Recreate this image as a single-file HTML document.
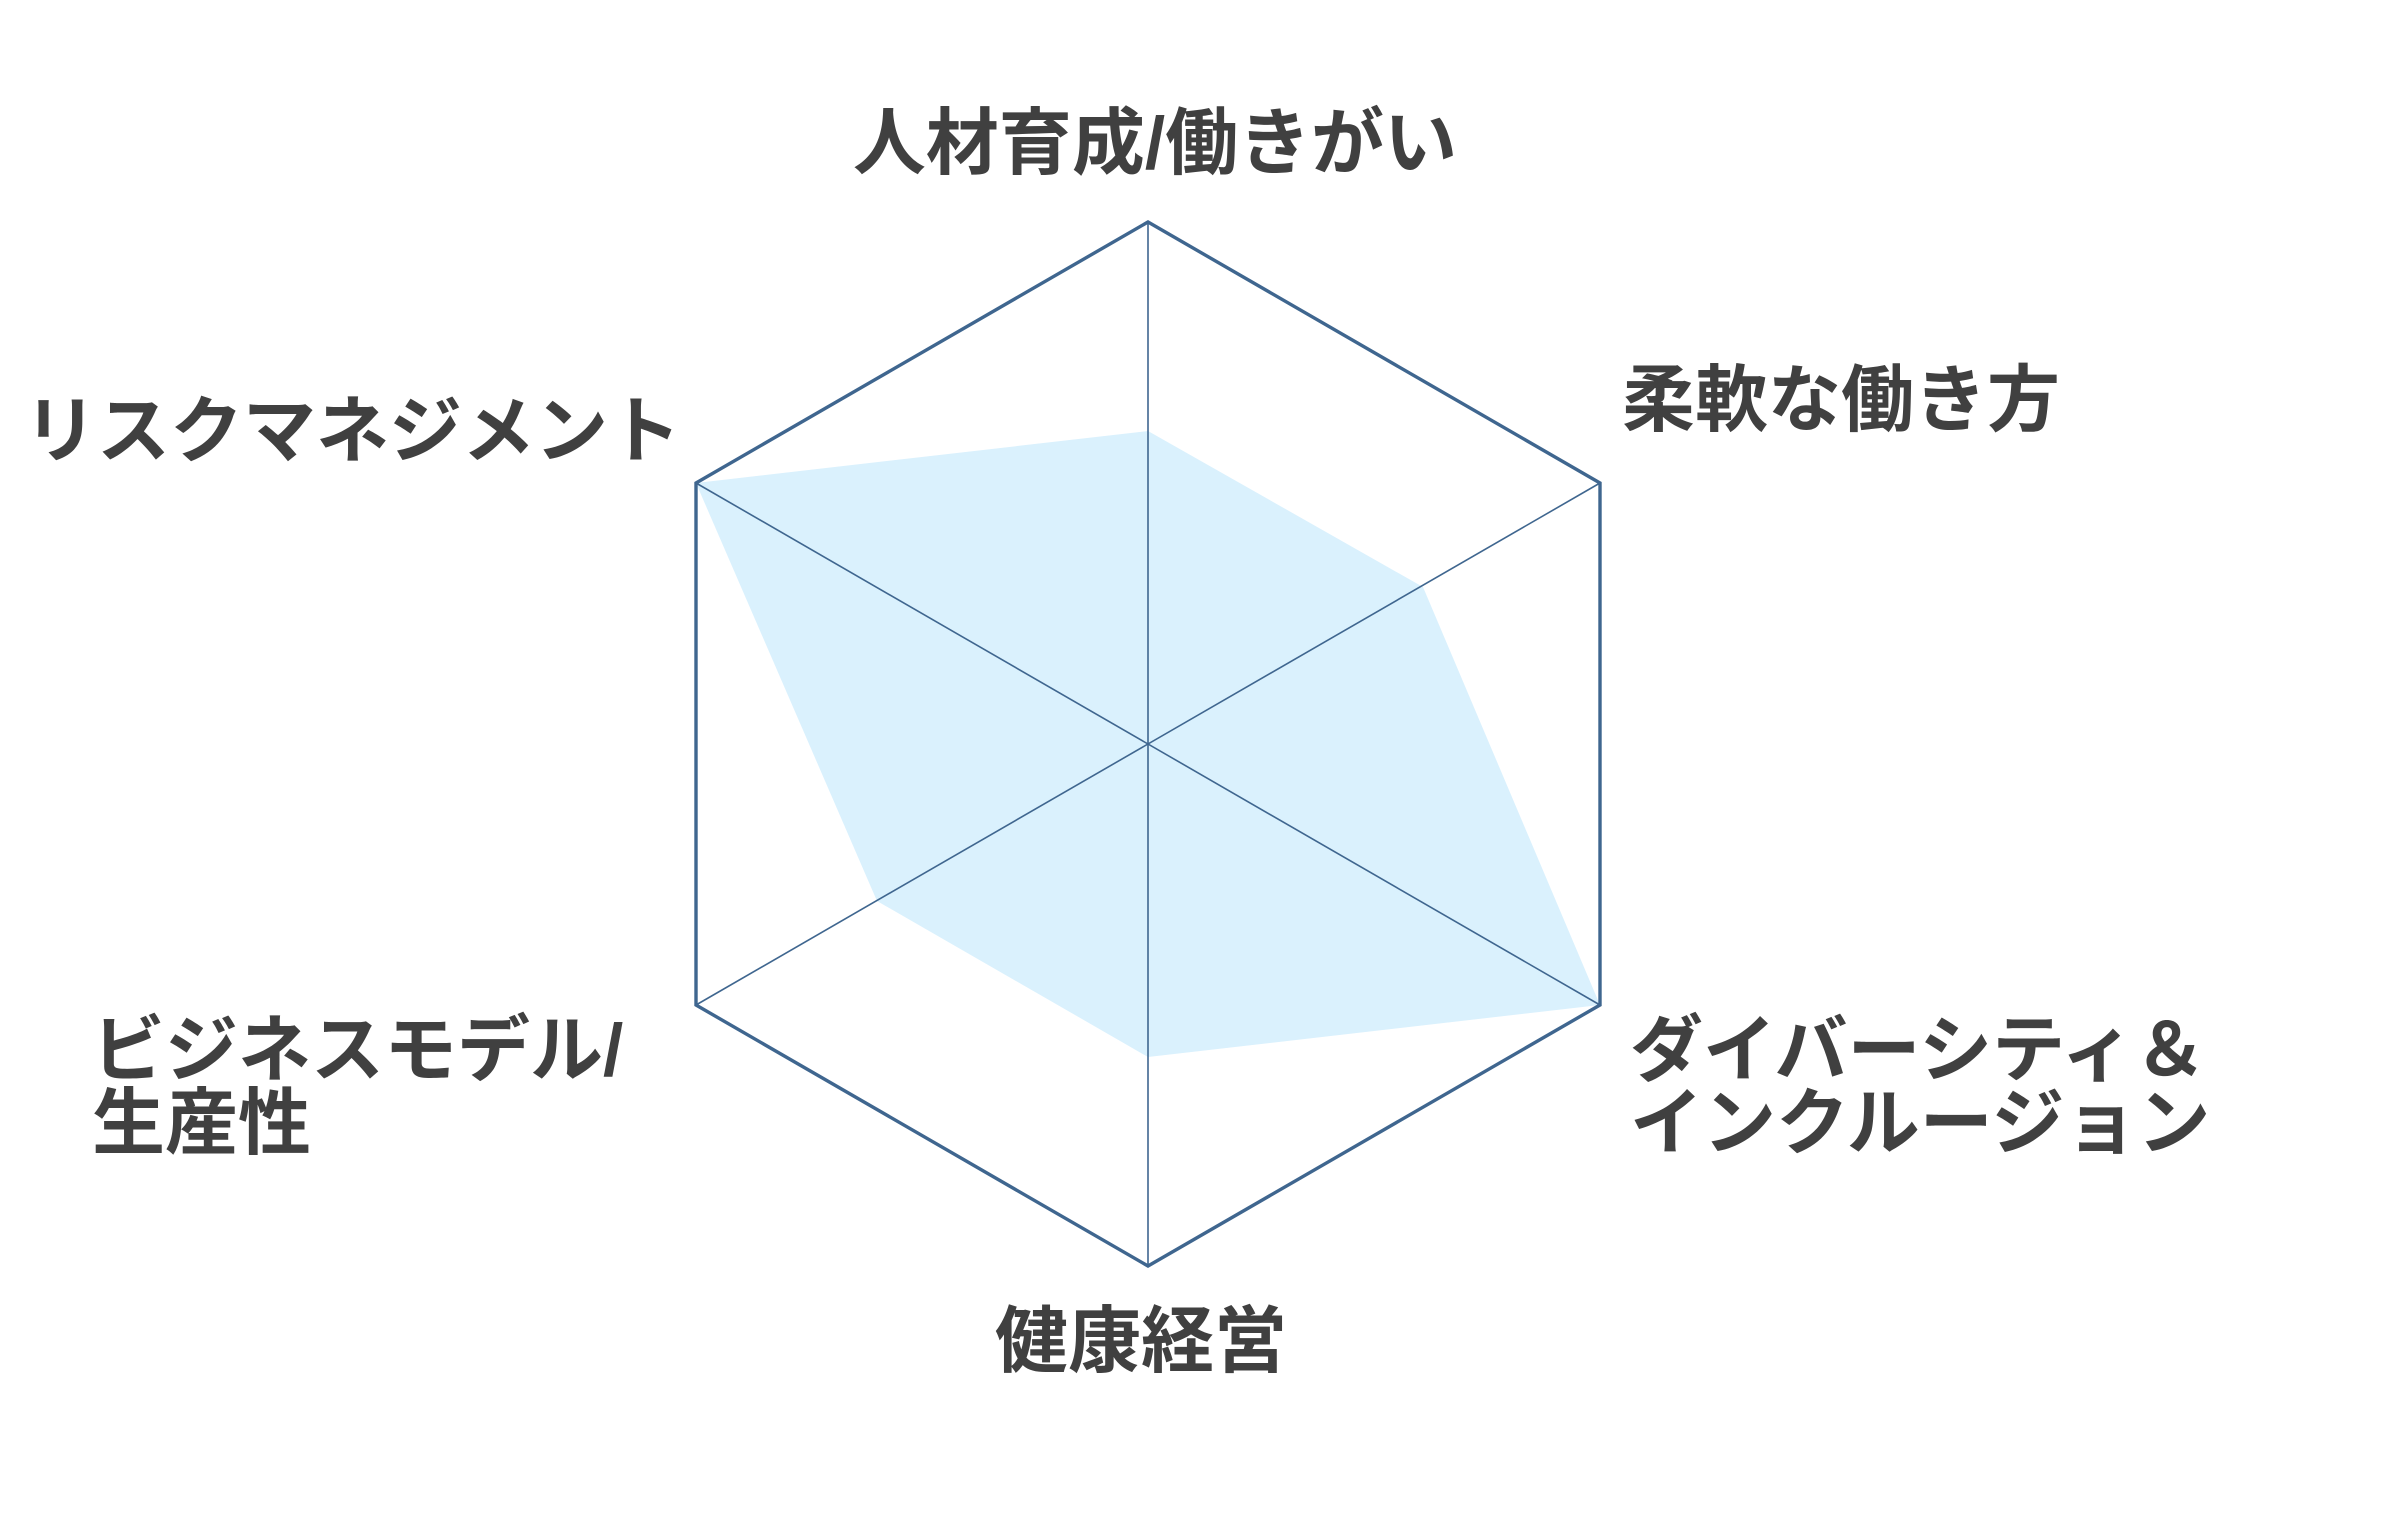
<!DOCTYPE html>
<html><head><meta charset="utf-8"><style>
html,body{margin:0;padding:0;background:#fff;}
svg text{font-family:"Liberation Sans","Noto Sans CJK JP",sans-serif;font-weight:bold;fill:#404040;font-size:73px;}
</style></head><body>
<svg width="2381" height="1510" viewBox="0 0 2381 1510" xmlns="http://www.w3.org/2000/svg">
<g transform="translate(-4,0)">
<polygon points="1152,431 1427,587 1604,1005 1152,1057 881,901 700,483" fill="#daf1fd"/>
<g stroke="#3f668f" stroke-width="1.6">
<line x1="1152" y1="222" x2="1152" y2="1266"/>
<line x1="700" y1="483" x2="1604" y2="1005"/>
<line x1="700" y1="1005" x2="1604" y2="483"/>
</g>
<polygon points="1152,222 1604,483 1604,1005 1152,1266 700,1005 700,483" fill="none" stroke="#3f668f" stroke-width="3.4"/>
</g>
<text x="1155" y="168" text-anchor="middle">人材育成/働きがい</text>
<text x="1622" y="425">柔軟な働き方</text>
<text x="681" y="456" text-anchor="end">リスクマネジメント</text>
<text x="92" y="1075">ビジネスモデル/</text>
<text x="92" y="1148">生産性</text>
<text x="1630" y="1075">ダイバーシティ＆</text>
<text x="1630" y="1148">インクルージョン</text>
<text x="1141" y="1366" text-anchor="middle">健康経営</text>
</svg>
</body></html>
